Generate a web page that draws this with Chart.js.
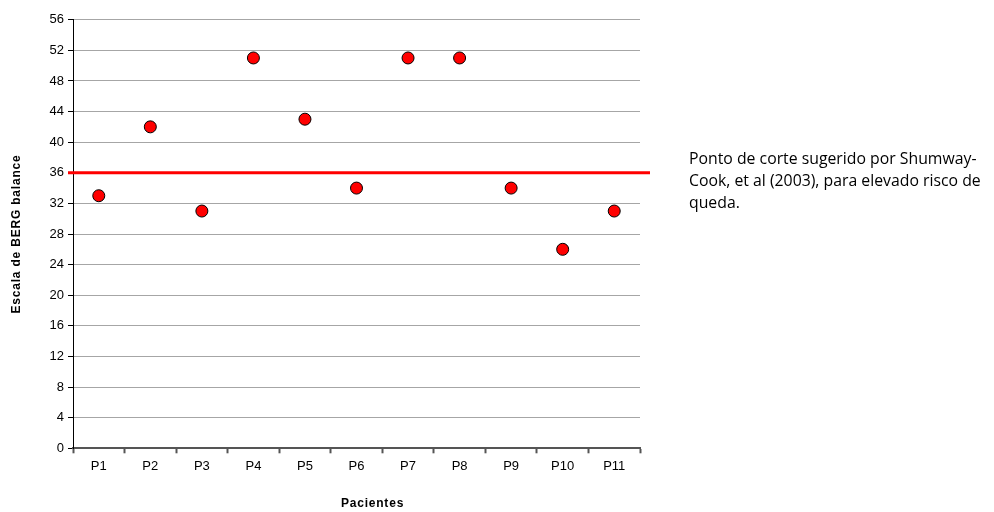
<!DOCTYPE html>
<html>
<head>
<meta charset="utf-8">
<script src="https://cdn.jsdelivr.net/npm/chart.js@4/dist/chart.umd.min.js"></script>
<style>
  html, body { margin: 0; padding: 0; background: #fff; }
  #wrap { position: relative; width: 994px; height: 512px; }
  #note {
    position: absolute; left: 689px; top: 147px; width: 305px; white-space: nowrap;
    font-family: "Open Sans", Lato, sans-serif; font-size: 15.8px; line-height: 22px; color: #000;
  }
</style>
</head>
<body>
<div id="wrap">
  <canvas id="c" width="994" height="512"></canvas>
  <div id="note">Ponto de corte sugerido por Shumway-<br>Cook, et al (2003), para elevado risco de<br>queda.</div>
</div>
<script>
// Pacientes avaliados e pontuação na escala de Berg
const patients = ['P1','P2','P3','P4','P5','P6','P7','P8','P9','P10','P11'];
const bergScores = [33, 42, 31, 51, 43, 34, 51, 51, 34, 26, 31];
const cutoffScore = 36;
const yTicks = [0, 4, 8, 12, 16, 20, 24, 28, 32, 36, 40, 44, 48, 52, 56];
const xTitle = 'Pacientes';
const yTitle = 'Escala de BERG balance';

// Linha vermelha do ponto de corte
const cutoffLine = {
  id: 'cutoffLine',
  beforeDatasetsDraw(chart) {
    const { ctx, chartArea, scales } = chart;
    const y = scales.y.getPixelForValue(cutoffScore);
    ctx.save();
    ctx.strokeStyle = '#ff0000';
    ctx.lineWidth = 3;
    ctx.beginPath();
    ctx.moveTo(chartArea.left - 5, y);
    ctx.lineTo(chartArea.right + 10, y);
    ctx.stroke();
    ctx.restore();
  }
};

// Títulos dos eixos, em negrito com espaçamento entre letras
const axisTitles = {
  id: 'axisTitles',
  afterDraw(chart) {
    const { ctx, chartArea } = chart;
    ctx.save();
    ctx.font = 'bold 12px "Liberation Sans", Arial, sans-serif';
    ctx.letterSpacing = '0.8px';
    ctx.fillStyle = '#000';
    ctx.textAlign = 'center';
    ctx.textBaseline = 'middle';
    ctx.fillText(xTitle, (chartArea.left + chartArea.right) / 2 + 16, 504);
    ctx.translate(17, (chartArea.top + chartArea.bottom) / 2);
    ctx.rotate(-Math.PI / 2);
    ctx.fillText(yTitle, 0, 0);
    ctx.restore();
  }
};

const tickFont = { family: '"Liberation Sans", Arial, sans-serif', size: 13 };

new Chart(document.getElementById('c'), {
  type: 'line',
  data: {
    labels: patients,
    datasets: [{
      data: bergScores,
      showLine: false,
      pointRadius: 6,
      pointHoverRadius: 6,
      pointBackgroundColor: '#ff0000',
      pointBorderColor: '#000000',
      pointBorderWidth: 1
    }]
  },
  options: {
    responsive: false,
    animation: false,
    events: [],
    layout: { padding: { top: 19.7, right: 354, left: 0, bottom: 0 } },
    plugins: { legend: { display: false }, tooltip: { enabled: false } },
    scales: {
      x: {
        type: 'category',
        offset: true,
        afterFit(scale) { scale.height = 63.7; },
        grid: {
          offset: true,
          drawOnChartArea: false,
          drawTicks: true,
          tickLength: 5,
          tickColor: '#555555',
          tickWidth: 2
        },
        border: { color: '#555555', width: 2 },
        ticks: { font: tickFont, color: '#000', padding: 5, maxRotation: 0 }
      },
      y: {
        min: 0,
        max: 56,
        afterFit(scale) { scale.width = 73; },
        afterBuildTicks(scale) { scale.ticks = yTicks.map(v => ({ value: v })); },
        grid: {
          color: '#a6a6a6',
          lineWidth: 1,
          drawTicks: true,
          tickLength: 5,
          tickColor: '#000000'
        },
        border: { color: '#000000', width: 1 },
        ticks: { font: tickFont, color: '#000', padding: 4 }
      }
    }
  },
  plugins: [cutoffLine, axisTitles]
});
</script>
</body>
</html>
